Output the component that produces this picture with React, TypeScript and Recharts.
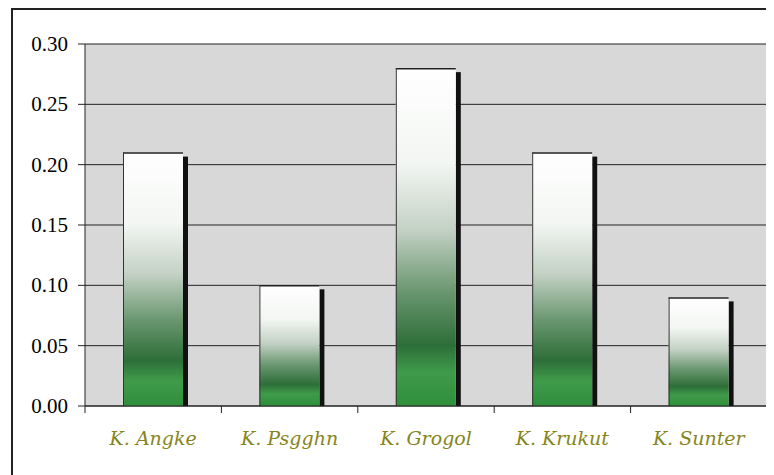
import React from "react"
import { BarChart, Bar, XAxis, YAxis, CartesianGrid } from "recharts"

const rivers = ["K. Angke", "K. Psgghn", "K. Grogol", "K. Krukut", "K. Sunter"]
const values = [0.21, 0.1, 0.28, 0.21, 0.09]
const yTicks = [0, 0.05, 0.1, 0.15, 0.2, 0.25, 0.3]
const edgeTicks = [0, 1, 2, 3, 4, 5]

const data = rivers.map((name, i) => ({ name, value: values[i], edge: i }))

const SERIF = "'Times New Roman', 'Liberation Serif', serif"

// bar with white->green fade, thin dark top/left edge and a black drop shadow on the right
function ShadowBar(props: any) {
  const { x, y, width, height } = props
  if (!height || height <= 0) return null
  return (
    <g>
      <rect x={x + width} y={y + 4} width={5} height={height - 4} fill="#111" />
      <rect x={x} y={y} width={width} height={height} fill="url(#barFade)" />
      <line x1={x} y1={y + 0.5} x2={x + width} y2={y + 0.5} stroke="#222" strokeWidth={1.5} />
      <line x1={x + 0.5} y1={y} x2={x + 0.5} y2={y + height} stroke="#333" strokeWidth={1} />
    </g>
  )
}

function RiverTick(props: any) {
  const { x, y, payload } = props
  return (
    <text x={x} y={y + 23} textAnchor="middle" fill="#858520" fontSize={19} fontStyle="italic" fontFamily="DejaVu Serif">
      {payload.value}
    </text>
  )
}

function ValueTick(props: any) {
  const { x, y, payload } = props
  return (
    <text x={x - 8} y={y + 7} textAnchor="end" fill="#000" fontSize={21} fontFamily={SERIF}>
      {Number(payload.value).toFixed(2)}
    </text>
  )
}

const NoLabel = () => <g />

export default function App() {
  return (
    <div style={{ position: "relative", width: 766, height: 467, overflow: "hidden", background: "#fff" }}>
      <div
        style={{
          position: "absolute",
          left: 3,
          top: 0,
          width: 900,
          height: 600,
          border: "2px solid #222",
        }}
      />
      <div style={{ position: "absolute", left: 0, top: 0 }}>
        <BarChart
          width={766}
          height={467}
          data={data}
          margin={{ top: 36, right: 7, bottom: 0, left: 0 }}
        >
          <defs>
            <linearGradient id="barFade" x1="0" y1="0" x2="0" y2="1">
              <stop offset="0%" stopColor="#ffffff" />
              <stop offset="28%" stopColor="#f3f6f3" />
              <stop offset="48%" stopColor="#c3d1c4" />
              <stop offset="66%" stopColor="#6a9770" />
              <stop offset="82%" stopColor="#2d6e38" />
              <stop offset="90%" stopColor="#3f9b4a" />
              <stop offset="100%" stopColor="#2f8f3b" />
            </linearGradient>
          </defs>
          <CartesianGrid vertical={false} stroke="#222" fill="#d8d8d8" fillOpacity={1} />
          {/* default axis: only draws the baseline and ticks between categories */}
          <XAxis
            type="number"
            dataKey="edge"
            domain={[0, 5]}
            ticks={edgeTicks}
            interval={0}
            height={8}
            tick={NoLabel}
            tickSize={7}
            tickLine={{ stroke: "#222" }}
            axisLine={{ stroke: "#222" }}
          />
          <XAxis
            xAxisId="cat"
            dataKey="name"
            height={61}
            axisLine={false}
            tickLine={false}
            tick={RiverTick}
          />
          <YAxis
            width={77}
            domain={[0, 0.3]}
            ticks={yTicks}
            interval={0}
            tickSize={7}
            axisLine={{ stroke: "#222" }}
            tickLine={{ stroke: "#222" }}
            tick={ValueTick}
          />
          <Bar xAxisId="cat" dataKey="value" barSize={60} shape={ShadowBar} isAnimationActive={false} />
        </BarChart>
      </div>
    </div>
  )
}
